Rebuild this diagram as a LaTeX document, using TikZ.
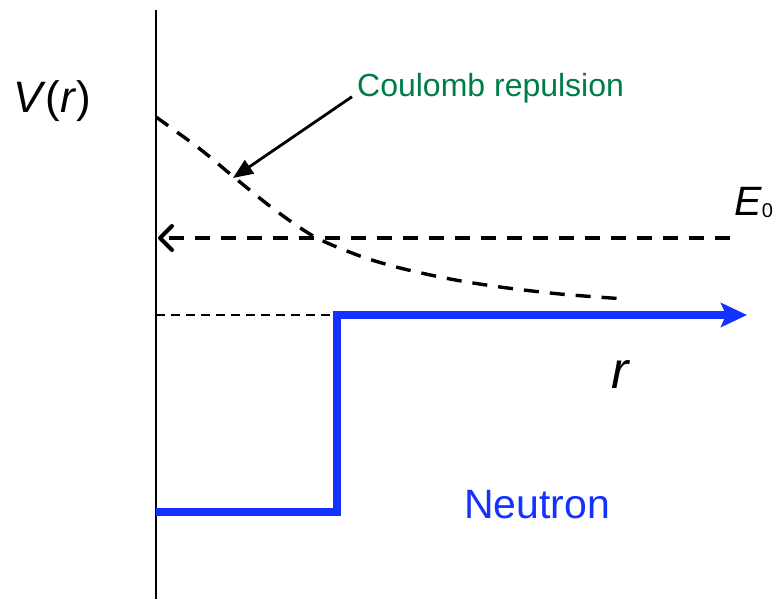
\documentclass[tikz,border=0pt]{standalone}
\usepackage{fontspec}
\setmainfont{Liberation Sans}
\usetikzlibrary{arrows.meta}
\definecolor{potblue}{RGB}{20,50,255}
\definecolor{labgreen}{RGB}{0,125,70}
\newcommand{\fsz}[1]{\fontsize{#1}{#1}\selectfont}
\begin{document}
\begin{tikzpicture}[x=1pt, y=-1pt,
    lab/.style={anchor=base west, inner sep=0pt},
    coul/.style={dash pattern=on 15pt off 11pt, line width=3.4pt},
    well/.style={potblue, line width=7.5pt}]
    \useasboundingbox (0,0) rectangle (774,599);

    % Axis
    \coordinate (top) at (156,10);
    \coordinate (bot) at (156,599);
    \draw[line width=2.4pt] (top) -- (bot);
    \node[lab] (vr) at (13,113) {\fsz{44}\textit{V}(\textit{r})};

    % Coulomb barrier
    \draw[coul] plot[smooth] coordinates {(156,117) (200,149) (235,178) (275,210)
      (315,237) (360,256) (400,268) (450,279) (500,287) (560,294) (625,299)};
    \coordinate (hit) at (233,178);
    \node[lab, text=labgreen] (coulomb) at (357,97) {\fsz{32}Coulomb repulsion};
    \draw[line width=2.8pt, -{Triangle[length=20pt,width=16pt]}]
      (coulomb.west) ++(-5,8) coordinate (cstart) (cstart) -- (hit);

    % Energy E0
    \coordinate (estart) at (730,238);
    \coordinate (eend) at (158,238);
    \draw[coul, -{Straight Barb[length=12pt,width=24pt,line width=4pt,round]}]
      (estart) -- (eend);
    \node[lab] (e0) at (734,215) {\fsz{41}\textit{E}\raisebox{-2pt}{\fsz{20}0}};

    % Zero level
    \coordinate (zl) at (156,315);
    \coordinate (zr) at (337,315);
    \draw[dash pattern=on 9pt off 6pt, line width=2pt] (zl) -- (zr);

    % Neutron well
    \coordinate (w0) at (156,512);
    \coordinate (w1) at (337,512);
    \coordinate (w2) at (337,315);
    \coordinate (w3) at (747,315);
    \draw[well, -{Stealth[length=26pt,width=24pt,inset=5pt]}]
      (w0) -- (w1) -- (w2) -- (w3);
    \node[lab] (rlab) at (611,388) {\fsz{52}\textit{r}};
    \node[lab, text=potblue] (neutron) at (464,518) {\fsz{41}Neutron};
\end{tikzpicture}
\end{document}
